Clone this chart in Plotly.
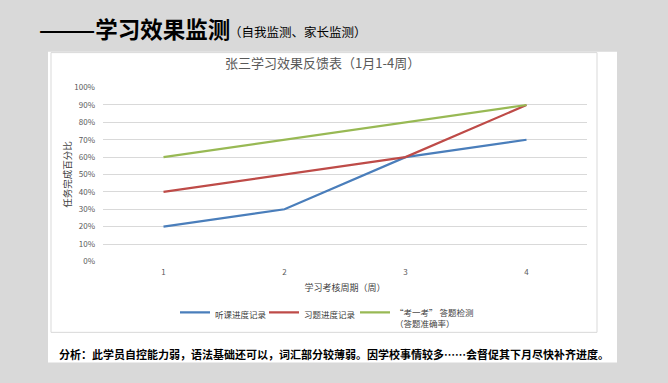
import plotly.graph_objects as go

weeks = ["1", "2", "3", "4"]
listen = [0.20, 0.30, 0.60, 0.70]
exercise = [0.40, 0.50, 0.60, 0.90]
quiz = [0.60, 0.70, 0.80, 0.90]
series_names = ["听课进度记录", "习题进度记录", "“考一考” 答题检测<br>（答题准确率）"]
colors = ["#4a7ebb", "#be4b48", "#98b954"]
y_ticks = [i / 10 for i in range(11)]

W, H = 668, 383
def px(x):
    return x / W
def py(y):
    return 1 - y / H

cjk = "Noto Sans CJK SC"
legend_ids = ["legend", "legend2", "legend3"]
legend_x = [175, 264, 355]

fig = go.Figure()
for name, vals, c, lid in zip(series_names, [listen, exercise, quiz], colors, legend_ids):
    fig.add_trace(go.Scatter(x=weeks, y=vals, mode="lines", name=name, legend=lid,
                             line=dict(color=c, width=2.2)))

legend_common = dict(orientation="h", xanchor="left", yanchor="top",
                     font=dict(size=8.5, color="#404040", family=cjk), bgcolor="rgba(0,0,0,0)",
                     itemwidth=30, valign="top")
legends = {}
for lid, lx in zip(legend_ids, legend_x):
    legends[lid] = dict(legend_common, x=px(lx), y=py(303))

fig.update_layout(
    width=W, height=H,
    margin=dict(l=0, r=0, t=0, b=0),
    paper_bgcolor="#d9d9d9", plot_bgcolor="white",
    font=dict(family=cjk, color="#595959", size=8),
    showlegend=True,
    **legends,
    xaxis=dict(domain=[px(103), px(587)], range=[-0.5, 3.5], type="category",
               showgrid=False, showline=False, ticks="", zeroline=False,
               ticklabelstandoff=5,
               tickfont=dict(size=8, color="#595959"),
               title=dict(text="学习考核周期（周）", font=dict(size=9, color="#404040"), standoff=8)),
    yaxis=dict(domain=[py(263), py(84)], range=[0, 1.0], tickvals=y_ticks, tickformat=".0%",
               showgrid=True, gridcolor="#d9d9d9", gridwidth=1, zeroline=False,
               showline=False, ticks="", ticklabelstandoff=7,
               tickfont=dict(size=8, color="#595959"),
               title=dict(text="任务完成百分比", font=dict(size=9.5, color="#404040"), standoff=0)),
    shapes=[
        dict(type="rect", xref="paper", yref="paper", x0=px(48), x1=px(617), y0=py(367), y1=py(47),
             fillcolor="white", line=dict(width=0), layer="below"),
        dict(type="rect", xref="paper", yref="paper", x0=px(51), x1=px(597), y0=py(336), y1=py(48),
             fillcolor="rgba(0,0,0,0)", line=dict(color="#d9d9d9", width=1), layer="below"),
    ],
    annotations=[
        dict(text="<b>———学习效果监测</b>", xref="paper", yref="paper", x=px(37), y=py(23),
             xanchor="left", yanchor="middle", showarrow=False,
             font=dict(family=cjk, size=22.5, color="#000000")),
        dict(text="（自我监测、家长监测）", xref="paper", yref="paper", x=px(227), y=py(26),
             xanchor="left", yanchor="middle", showarrow=False,
             font=dict(family=cjk, size=12.5, color="#000000")),
        dict(text="张三学习效果反馈表（1月1-4周）", xref="paper", yref="paper", x=px(322), y=py(58),
             xanchor="center", yanchor="middle", showarrow=False,
             font=dict(family=cjk, size=13, color="#595959")),
        dict(text="<b>分析：此学员自控能力弱，语法基础还可以，词汇部分较薄弱。因学校事情较多……会督促其下月尽快补齐进度。</b>",
             xref="paper", yref="paper", x=px(57), y=py(358),
             xanchor="left", yanchor="middle", showarrow=False,
             font=dict(family=cjk, size=11, color="#000000")),
    ],
)

fig.write_html("out.html")
